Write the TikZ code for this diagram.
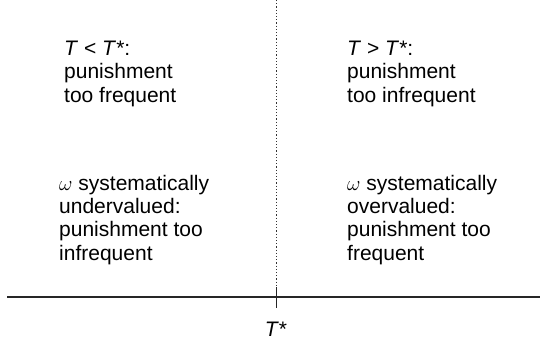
\documentclass[tikz,border=0pt]{standalone}
\usepackage{fontspec}
\setmainfont{Liberation Sans}
\begin{document}
\begin{tikzpicture}[x=1pt,y=-1pt,
  lbl/.style={anchor=base west, align=left, inner sep=0pt, font=\fontsize{21}{23.3}\selectfont},
  axisline/.style={line width=1.3pt, draw=black!85},
  divider/.style={line width=0.8pt, dash pattern=on 1.2pt off 2pt, draw=black!80},
  tickline/.style={line width=1pt, draw=black!85}]
\useasboundingbox (0,0) rectangle (540,340);
\coordinate (L) at (7,297);
\coordinate (R) at (540,297);
\coordinate (top) at (276,0);
\coordinate (tickT) at (276,287);
\coordinate (tickB) at (276,308);
\draw[axisline] (L) -- (R);
\draw[divider] (top) -- (tickT);
\draw[tickline] (tickT) -- (tickB);
% anchor = baseline of the last line
\node[lbl] (tl) at (64,102) {\textit{T} < \textit{T}*:\\punishment\\too frequent};
\node[lbl] (tr) at (347,102) {\textit{T} > \textit{T}*:\\punishment\\too infrequent};
\node[lbl] (bl) at (59,260) {$\omega$ systematically\\undervalued:\\punishment too\\infrequent};
\node[lbl] (br) at (347,260) {$\omega$ systematically\\overvalued:\\punishment too\\frequent};
\node[lbl, anchor=base] (ts) at (276,336) {\textit{T}*};
\end{tikzpicture}
\end{document}
